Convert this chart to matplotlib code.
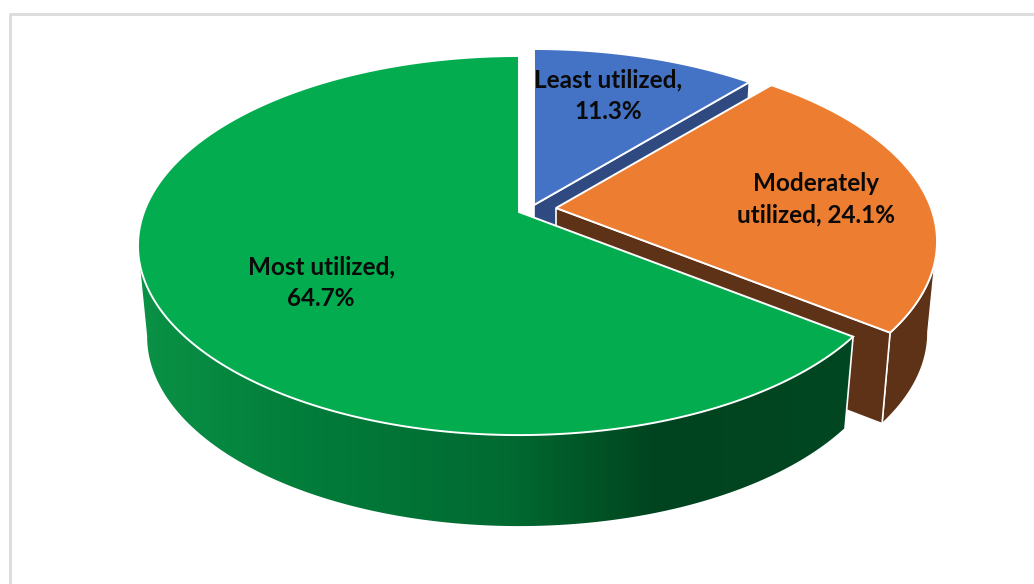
import matplotlib
matplotlib.use('Agg')
import matplotlib.pyplot as plt
import matplotlib.colors as mcolors
from matplotlib.patches import Polygon
import numpy as np

categories = ['Least utilized', 'Moderately utilized', 'Most utilized']
values = [11.3, 24.1, 64.7]

top_colors = ['#4472C4', '#ED7D31', '#03AD4F']
cut_colors = ['#2E4A80', '#5E3216', '#03AD4F']

# where each slice's tip sits after the explosion, picture pixels
tips = [(534, 205), (556, 208), (519, 212)]
label_pos = [(608, 96), (816, 199), (321, 283)]

# projection of the tilted disc
SX, SY, PERSP = 375, 183.6, 0.177
SX_LOW, DROP = 366, 91
# the wall's silhouette touches the disc about 10 degrees below the horizontal
TANGENT = np.radians(100)

green_side = mcolors.LinearSegmentedColormap.from_list(
    'green_side',
    [(0.0, '#0A9346'), (0.25, '#027C3A'), (0.52, '#016A31'), (0.72, '#00441F'), (1.0, '#004722')])


def project(tip, a, low=False):
    # a is clockwise from 12 o'clock
    x, y = np.sin(a), np.cos(a)
    w = 1 + PERSP * y
    sx = SX_LOW if low else SX
    drop = DROP if low else 0
    return tip[0] + sx * x / w, tip[1] - SY * y / w + drop


def top_face(ax, tip, a0, a1, color, zorder=3):
    a = np.linspace(a0, a1, 300)
    px, py = project(tip, a)
    ax.fill(np.r_[tip[0], px], np.r_[tip[1], py], fc=color, ec='white', lw=1.4,
            zorder=zorder)


def wall_outline(tip, a0, a1):
    a = np.linspace(a0, a1, 200)
    x0, y0 = project(tip, a)
    x1, y1 = project(tip, a, low=True)
    return np.r_[x0, x1[::-1]], np.r_[y0, y1[::-1]]


def cut_face(ax, tip, a, color):
    x0, y0 = project(tip, a)
    x1, y1 = project(tip, a, low=True)
    ax.fill([tip[0], x0, x1, tip[0]], [tip[1], y0, y1, tip[1] + DROP],
            fc=color, ec='white', lw=1.2, zorder=2)


fig = plt.figure(figsize=(10.34, 5.84), dpi=100)
ax = fig.add_axes([0, 0, 1, 1])

ax.plot([10, 10, 1034], [584, 14, 14], color='#DDDDDD', lw=2.2, zorder=1)

edges = np.r_[0, np.cumsum(values)] / np.sum(values) * 2 * np.pi

# blue: only the cut shows
cut_face(ax, tips[0], edges[1], cut_colors[0])
top_face(ax, tips[0], edges[0], edges[1], top_colors[0])

# orange: cut plus outer wall
wx, wy = wall_outline(tips[1], TANGENT, edges[2])
ax.fill(wx, wy, fc=cut_colors[1], ec='white', lw=1.0, zorder=2)
cut_face(ax, tips[1], edges[2], cut_colors[1])
top_face(ax, tips[1], edges[1], edges[2], top_colors[1])

# green: wall gets a left to right gradient, clipped to the wall shape
wx, wy = wall_outline(tips[2], edges[2], 2 * np.pi - TANGENT)
grad = np.linspace(0, 1, 512).reshape(1, -1)
im = ax.imshow(grad, cmap=green_side, extent=(130, 860, 540, 230), aspect='auto', zorder=4)
im.set_clip_path(Polygon(np.c_[wx, wy], transform=ax.transData))
x0, y0 = project(tips[2], edges[2])
x1, y1 = project(tips[2], edges[2], low=True)
ax.plot([x0, x1], [y0, y1], color='white', lw=1.2, zorder=4)
top_face(ax, tips[2], edges[2], edges[3], top_colors[2], zorder=5)

labels = [
    f'{categories[0]},\n{values[0]}%',
    f'Moderately\nutilized, {values[1]}%',
    f'{categories[2]},\n{values[2]}%',
]
for (x, y), s in zip(label_pos, labels):
    ax.text(x, y, s, ha='center', va='center', family='Lato', weight='bold',
            fontsize=17.5, color='#0A0A0A', linespacing=1.45, zorder=6)

ax.set_xlim(0, 1034)
ax.set_ylim(584, 0)
ax.axis('off')

fig.savefig('out.png', dpi=100, facecolor='white')
